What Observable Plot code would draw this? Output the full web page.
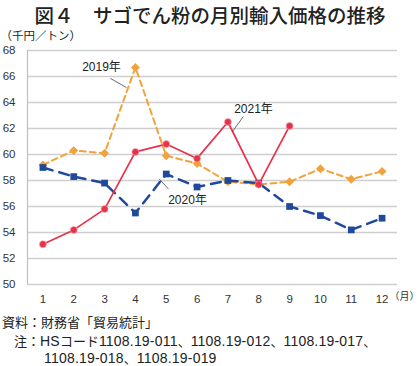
<!DOCTYPE html>
<html><head><meta charset="utf-8">
<script src="https://cdn.jsdelivr.net/npm/d3@7"></script>
<script src="https://cdn.jsdelivr.net/npm/@observablehq/plot@0.6"></script>
<style>
body{margin:0;background:#fff;width:420px;height:366px;overflow:hidden;position:relative;font-family:"Liberation Sans","Noto Sans CJK JP",sans-serif;color:#222}
#title{height:30px;line-height:30px;text-align:center;font-family:"Noto Sans CJK JP",sans-serif;font-weight:500;font-size:19.5px;color:#222}
#chart{height:282px}
.foot{position:absolute;font-family:"Liberation Sans","Noto Sans CJK JP",sans-serif;font-size:13px;line-height:15px;height:15px;color:#222;white-space:nowrap}
.foot .n{font-size:14px;letter-spacing:0.2px;line-height:15px}
</style></head>
<body>
<div id="title">図４　サゴでん粉の月別輸入価格の推移</div>
<div id="chart"></div>
<div class="foot" style="top:315px;left:2px">資料：財務省「貿易統計」</div>
<div class="foot" style="top:334px;left:14px">注：<span class="n">HS</span>コード<span class="n">1108.19-011</span>、<span class="n">1108.19-012</span>、<span class="n">1108.19-017</span>、</div>
<div class="foot" style="top:351px;left:44px"><span class="n">1108.19-018</span>、<span class="n">1108.19-019</span></div>
<script>
const months = [1,2,3,4,5,6,7,8,9,10,11,12];
const v2019 = [59.2,60.3,60.1,66.7,59.9,59.3,57.9,57.7,57.9,58.9,58.1,58.7];
const v2020 = [59.0,58.3,57.8,55.5,58.5,57.5,58.0,57.8,56.0,55.3,54.2,55.1];
const v2021 = [53.1,54.2,55.8,60.2,60.8,59.7,62.5,57.7,62.2];
const yTicks = [50,52,54,56,58,60,62,64,66,68];
const unitLabel = "（千円／トン）";
const monthLabel = "（月）";
const notes = [
  {text:"2019年", x:2.9, y:66.7, x1:3.19, y1:65.85, x2:3.71, y2:65.15},
  {text:"2020年", x:5.69, y:56.45, x1:4.78, y1:58.1, x2:5.07, y2:57.35},
  {text:"2021年", x:7.83, y:63.45, x1:7.5, y1:62.92, x2:7.15, y2:61.77}
];
const mk = (vals) => vals.map((v,i)=>({m:months[i], v}));
const d19 = mk(v2019), d20 = mk(v2020), d21 = mk(v2021);
const cOrange = "#F2A23A", cBlue = "#1F4A9C", cRed = "#E8324A";
const font = "'Liberation Sans','Noto Sans CJK JP',sans-serif";

const plot = Plot.plot({
  width: 420, height: 282,
  marginLeft: 27, marginRight: 23, marginTop: 20, marginBottom: 28,
  style: {fontFamily: font, fontSize: "11.5px", color: "#333", background: "#fff", overflow: "visible"},
  x: {domain: [0.5, 12.5], ticks: months, tickSize: 0, tickPadding: 10, tickFormat: d => String(d), label: null},
  y: {domain: [50, 68], ticks: yTicks, tickSize: 0, tickPadding: 12, label: null},
  marks: [
    Plot.ruleY(yTicks, {stroke: "#cfcfcf", strokeWidth: 1.5}),
    Plot.ruleX([0.5], {stroke: "#bdbdbd", strokeWidth: 1.2}),
    Plot.line(d19, {x:"m", y:"v", stroke: cOrange, strokeWidth: 2, strokeDasharray: "6,4"}),
    Plot.dot(d19, {x:"m", y:"v", symbol: "diamond2", r: 4, fill: cOrange, stroke: "none"}),
    Plot.line(d20, {x:"m", y:"v", stroke: cBlue, strokeWidth: 2.5, strokeDasharray: "10,7"}),
    Plot.dot(d20, {x:"m", y:"v", symbol: "square", r: 3.8, fill: cBlue, stroke: "none"}),
    Plot.line(d21, {x:"m", y:"v", stroke: cRed, strokeWidth: 1.7}),
    Plot.dot(d21, {x:"m", y:"v", r: 3.5, fill: cRed, stroke: "#f7b0ba", strokeWidth: 0.6}),
    Plot.link(notes, {x1:"x1", y1:"y1", x2:"x2", y2:"y2", stroke: "#444", strokeWidth: 0.8}),
    Plot.text(notes, {x:"x", y:"y", text:"text", fontSize: 12, fill: "#222"}),
    Plot.text([unitLabel], {frameAnchor: "top-left", dx: -27, dy: -19, text: d => d, fontSize: 11.5, fill: "#222", textAnchor: "start"}),
    Plot.text([monthLabel], {frameAnchor: "bottom-right", dx: -8, dy: 15, text: d => d, fontSize: 10, fill: "#333", textAnchor: "start"})
  ]
});
document.getElementById("chart").appendChild(plot);
</script>
</body></html>
